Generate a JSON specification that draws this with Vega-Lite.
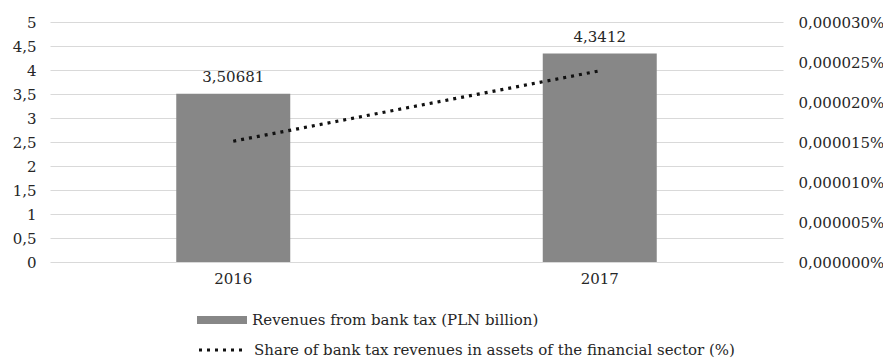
{
  "$schema": "https://vega.github.io/schema/vega-lite/v6.json",
  "width": 733,
  "height": 240,
  "autosize": {"type": "none"},
  "padding": {"left": 50, "top": 22, "right": 100, "bottom": 99},
  "background": "white",
  "config": {
    "locale": {"number": {"decimal": ",", "thousands": " ", "grouping": [3], "currency": ["", " zł"]}},
    "view": {"stroke": null},
    "font": "DejaVu Serif",
    "axis": {"labelFont": "DejaVu Serif", "labelFontSize": 15, "labelColor": "#262626", "domain": false, "ticks": false, "title": null},
    "legend": {"labelFont": "DejaVu Serif", "labelFontSize": 15, "labelColor": "#262626", "labelLimit": 700}
  },
  "data": {"values": [
    {"year": "2016", "revenue": 3.50681, "share": 0.0000151},
    {"year": "2017", "revenue": 4.3412, "share": 0.0000239}
  ]},
  "encoding": {
    "x": {"field": "year", "type": "nominal", "scale": {"paddingInner": 0, "paddingOuter": 0},
      "axis": {"labelAngle": 0, "labelPadding": 9, "grid": false}}
  },
  "layer": [
    {
      "encoding": {
        "y": {"field": "revenue", "type": "quantitative", "scale": {"domain": [0, 5]},
          "axis": {"values": [0, 0.5, 1, 1.5, 2, 2.5, 3, 3.5, 4, 4.5, 5], "format": "~g", "grid": true, "gridColor": "#d9d9d9", "gridWidth": 1.2, "labelPadding": 14}}
      },
      "layer": [
        {"mark": {"type": "bar", "size": 114},
         "encoding": {"fill": {"datum": "Revenues from bank tax (PLN billion)", "type": "nominal", "scale": {"range": ["#878787"]},
           "legend": {"title": null, "orient": "none", "legendX": 147, "legendY": 273, "symbolType": "M-1,-0.16H1V0.16H-1Z", "symbolSize": 2500, "symbolStrokeWidth": 0, "labelOffset": 5}}}},
        {"mark": {"type": "text", "baseline": "bottom", "dy": -9, "fontSize": 15, "color": "#262626", "font": "DejaVu Serif"},
         "encoding": {"text": {"field": "revenue", "type": "quantitative", "format": ".6~g"}}}
      ]
    },
    {
      "mark": {"type": "line", "color": "#111111", "strokeWidth": 3.2},
      "encoding": {
        "y": {"field": "share", "type": "quantitative", "scale": {"domain": [0, 0.00003]},
          "axis": {"orient": "right", "values": [0, 0.000005, 0.00001, 0.000015, 0.00002, 0.000025, 0.00003], "labelExpr": "format(datum.value, '.6f') + '%'", "grid": false, "labelPadding": 15}},
        "strokeDash": {"datum": "Share of bank tax revenues in assets of the financial sector (%)", "type": "nominal", "scale": {"range": [[3, 5]]},
          "legend": {"title": null, "orient": "none", "legendX": 147, "legendY": 302, "symbolType": "stroke", "symbolSize": 2304, "symbolStrokeWidth": 3.2, "symbolStrokeColor": "#111111", "labelOffset": 5}}
      }
    }
  ],
  "resolve": {"scale": {"y": "independent", "fill": "independent", "strokeDash": "independent"}}
}
